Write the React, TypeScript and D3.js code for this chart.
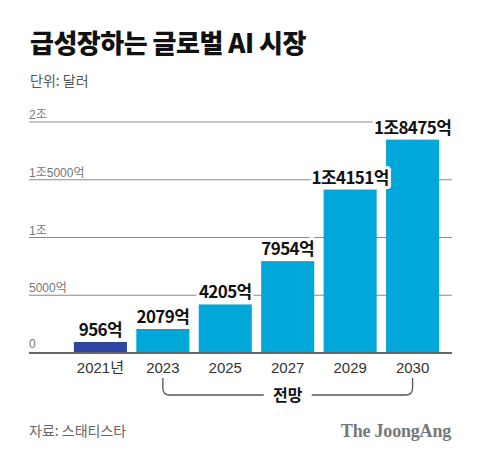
import React from "react";
import * as d3 from "d3";

const years = ["2021년", "2023", "2025", "2027", "2029", "2030"];
const values = [956, 2079, 4205, 7954, 14151, 18475]; // 억 달러
const valueLabels = ["956억", "2079억", "4205억", "7954억", "1조4151억", "1조8475억"];
const tickValues = [0, 5000, 10000, 15000, 20000];
const tickLabels = ["0", "5000억", "1조", "1조5000억", "2조"];

const W = 480;
const H = 459;
const KR = "'Noto Sans CJK KR', 'Noto Sans', sans-serif";
const LAT = "'Liberation Sans', 'Noto Sans CJK KR', sans-serif";

export default function App() {
  const x = d3
    .scaleBand<string>()
    .domain(years)
    .range([69.2, 443.8])
    .paddingInner(0.15)
    .paddingOuter(0.075);
  const y = d3.scaleLinear().domain([0, 20000]).range([353, 122]);

  const bx0 = (x("2023") ?? 0) + x.bandwidth() / 2;
  const bx1 = (x("2030") ?? 0) + x.bandwidth() / 2;
  const mid = (bx0 + bx1) / 2;
  const by0 = 378;
  const by1 = 395;
  const r = 7;
  const gap = 24;

  return (
    <svg
      width={W}
      height={H}
      style={{ position: "absolute", left: 0, top: 0, background: "#fff" }}
    >
      <rect width={W} height={H} fill="#fff" />
      <text x={30} y={53} fontFamily={KR} fontWeight={900} fontSize={26} letterSpacing={-0.5} fill="#111">
        급성장하는 글로벌 AI 시장
      </text>
      <text x={30} y={86} fontFamily={KR} fontSize={14} fill="#555">
        단위: 달러
      </text>

      {tickValues.slice(1).map((t, i) => (
        <g key={t}>
          <line x1={29} x2={452} y1={y(t)} y2={y(t)} stroke="#8a8a8a" strokeWidth={1} />
          <text x={29} y={y(t) - 3} fontFamily={LAT} fontSize={12} fill="#777">
            {tickLabels[i + 1]}
          </text>
        </g>
      ))}
      <text x={29} y={y(0) - 5} fontFamily={LAT} fontSize={12} fill="#777">
        {tickLabels[0]}
      </text>

      {years.map((yr, i) => (
        <rect
          key={yr}
          x={x(yr)}
          y={y(values[i])}
          width={x.bandwidth()}
          height={y(0) - y(values[i])}
          fill={i === 0 ? "#2d45a3" : "#00a8da"}
        />
      ))}

      <line x1={29} x2={452} y1={y(0)} y2={y(0)} stroke="#666" strokeWidth={2} />

      {years.map((yr, i) => (
        <text
          key={yr}
          x={(x(yr) ?? 0) + x.bandwidth() / 2}
          y={y(values[i]) - 6}
          textAnchor="middle"
          fontFamily={KR}
          fontWeight={700}
          fontSize={17}
          letterSpacing={-0.6}
          fill="#111"
          stroke="#fff"
          strokeWidth={6}
          paintOrder="stroke"
          strokeLinejoin="round"
        >
          {valueLabels[i]}
        </text>
      ))}

      {years.map((yr) => (
        <text
          key={yr}
          x={(x(yr) ?? 0) + x.bandwidth() / 2}
          y={373}
          textAnchor="middle"
          fontFamily={LAT}
          fontSize={15}
          fill="#333"
        >
          {yr}
        </text>
      ))}

      <path
        d={`M${bx0},${by0} V${by1 - r} Q${bx0},${by1} ${bx0 + r},${by1} H${mid - gap}`}
        fill="none"
        stroke="#555"
        strokeWidth={1.3}
      />
      <path
        d={`M${bx1},${by0} V${by1 - r} Q${bx1},${by1} ${bx1 - r},${by1} H${mid + gap}`}
        fill="none"
        stroke="#555"
        strokeWidth={1.3}
      />
      <text x={mid} y={401} textAnchor="middle" fontFamily={KR} fontWeight={700} fontSize={16} fill="#111">
        전망
      </text>

      <text x={29} y={436} fontFamily={KR} fontSize={14} fill="#666">
        자료: 스태티스타
      </text>
      <text
        x={451}
        y={437}
        textAnchor="end"
        fontFamily="'Liberation Serif', 'DejaVu Serif', serif"
        fontWeight={700}
        fontSize={18}
        letterSpacing={-0.2}
        fill="#777"
      >
        The JoongAng
      </text>
    </svg>
  );
}
